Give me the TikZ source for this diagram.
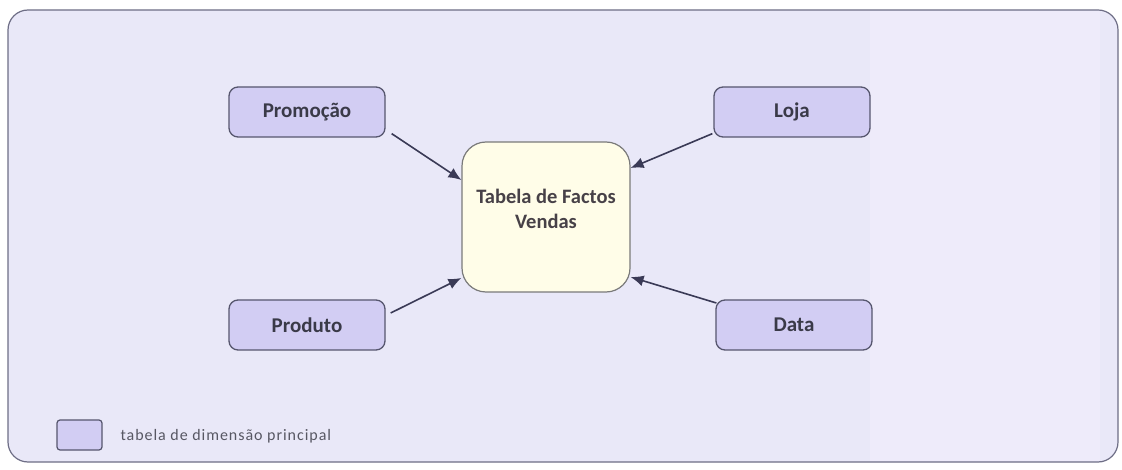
\documentclass[tikz,border=0pt]{standalone}
\usepackage{fontspec}
\setmainfont{Carlito}
\usetikzlibrary{arrows.meta}
\definecolor{panel}{HTML}{E9E8F8}
\definecolor{panelR}{HTML}{EEEBFA}
\definecolor{frameline}{HTML}{6E6E86}
\definecolor{dimfill}{HTML}{D2CDF3}
\definecolor{dimline}{HTML}{56566E}
\definecolor{factfill}{HTML}{FFFDE8}
\definecolor{factline}{HTML}{7A7A7A}
\definecolor{txt}{HTML}{3A3A48}
\definecolor{arrowcol}{HTML}{3A3A56}
\tikzset{
  dimbox/.style={draw=dimline, line width=1.3pt, fill=dimfill, rounded corners=9pt,
    minimum width=156pt, minimum height=50pt, font=\bfseries\fontsize{21}{24}\selectfont, text=txt},
  factbox/.style={draw=factline, line width=1.2pt, fill=factfill, rounded corners=24pt,
    minimum width=168pt, minimum height=150pt},
  facttext/.style={align=center, font=\bfseries\fontsize{20.5}{25}\selectfont, text=txt!90!brown},
  link/.style={draw=arrowcol, line width=1.6pt, -{Latex[length=13pt,width=11pt]}},
  legendbox/.style={draw=dimline, line width=1.2pt, fill=dimfill, rounded corners=3pt,
    minimum width=45pt, minimum height=30pt},
}
\begin{document}
\begin{tikzpicture}[x=1pt,y=-1pt]
\useasboundingbox (0,0) rectangle (1122,470);
\fill[white] (0,0) rectangle (1122,470);
% outer panel
\fill[panel, rounded corners=20pt] (8,10) rectangle (1118,462);
\fill[panelR] (870,11) -- (1100,11) -- (1100,461) -- (870,461) -- cycle;
\draw[frameline, line width=1.2pt, rounded corners=20pt] (8,10) rectangle (1118,462);

% dimension tables
\node[dimbox] (promo) at (307,112) {Promoção};
\node[dimbox] (loja)  at (792,112) {Loja};
\node[dimbox] (prod)  at (307,325) {Produto};
\node[dimbox] (data)  at (794,325) {Data};

% fact table, its label set a little above the centre
\node[factbox] (fact) at (546,217) {};
\node[facttext] (factlabel) at (546,209) {Tabela de Factos\\Vendas};

% connectors: each dimension points to the fact table
\draw[link] ([xshift=6pt,yshift=4pt]promo.south east) -- ([yshift=37pt]fact.west);
\draw[link] ([xshift=-1pt,yshift=4pt]loja.south west) -- ([yshift=49pt]fact.east);
\draw[link] ([xshift=5pt,yshift=12pt]prod.east) -- ([yshift=-61pt]fact.west);
\draw[link] ([xshift=1pt,yshift=22pt]data.west) -- ([yshift=-60pt]fact.east);

% legend
\node[legendbox] (key) at (79.5,435) {};
\node[anchor=west, text=txt!85, font=\fontsize{16}{18}\selectfont\addfontfeatures{LetterSpace=6}] (keytext) at (117,436) {tabela de dimensão principal};
\end{tikzpicture}
\end{document}
